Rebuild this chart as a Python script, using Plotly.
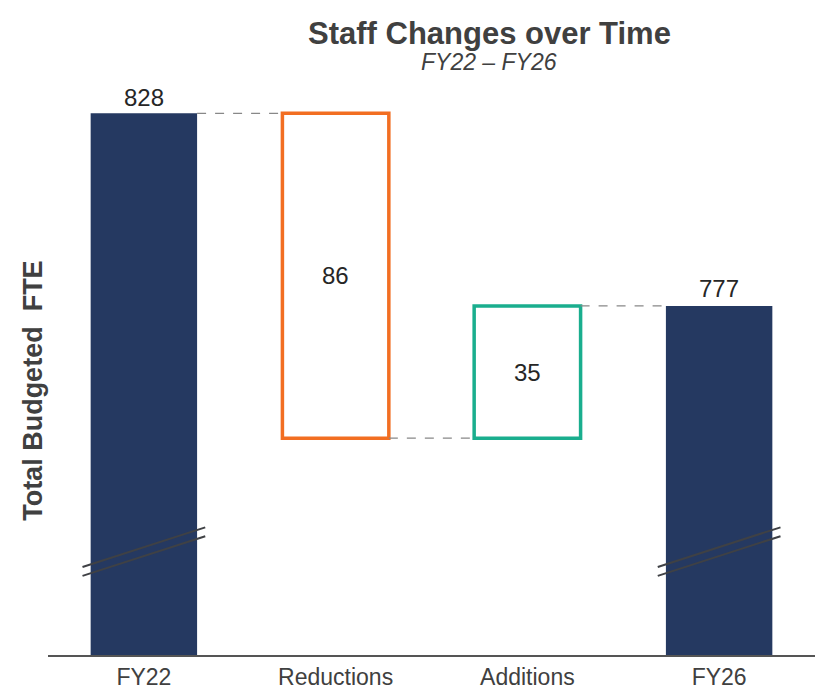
import plotly.graph_objects as go

categories = ["FY22", "Reductions", "Additions", "FY26"]
start_total = 828
reductions = 86
additions = 35
end_total = 777
axis_floor = 684.6
axis_top = 840

navy = "#253961"
orange = "#F26E22"
teal = "#1AAE8E"
grey_text = "#404040"

red_base = start_total - reductions
add_base = red_base
add_top = add_base + additions

fig = go.Figure()
bw = 0.555

fig.add_trace(go.Bar(x=[categories[0], categories[3]], y=[start_total - axis_floor, end_total - axis_floor],
                     base=[axis_floor, axis_floor], width=bw, marker=dict(color=navy, line=dict(width=0)),
                     hoverinfo="skip"))
fig.add_trace(go.Bar(x=[categories[1]], y=[reductions], base=[red_base], width=bw,
                     marker=dict(color="white", line=dict(color=orange, width=3.5)), hoverinfo="skip"))
fig.add_trace(go.Bar(x=[categories[2]], y=[additions], base=[add_base], width=bw,
                     marker=dict(color="white", line=dict(color=teal, width=3.5)), hoverinfo="skip"))

# value labels
fsz = 24
fig.add_annotation(x=0, y=start_total, text=str(start_total), showarrow=False, yanchor="bottom",
                   yshift=0, font=dict(size=fsz, color="#262626"))
fig.add_annotation(x=3, y=end_total, text=str(end_total), showarrow=False, yanchor="bottom",
                   yshift=2, font=dict(size=fsz, color="#262626"))
fig.add_annotation(x=1, y=red_base + reductions / 2, text=str(reductions), showarrow=False,
                   font=dict(size=fsz, color="#262626"))
fig.add_annotation(x=2, y=add_base + additions / 2, text=str(additions), showarrow=False,
                   font=dict(size=fsz, color="#262626"))

# connectors
conn = [(0, 1, start_total), (1, 2, red_base), (2, 3, add_top)]
for a, b, yv in conn:
    fig.add_shape(type="line", xref="x", yref="y", x0=a + bw / 2, x1=b - bw / 2, y0=yv, y1=yv,
                  line=dict(color="#888", width=1.3, dash="dash"))

# axis break marks on total bars
for ci in (0, 3):
    for off in (0, 2.35):
        fig.add_shape(type="line", xref="x", yref="y", x0=ci - 0.32, x1=ci + 0.32,
                      y0=707.9 + off - 2.35, y1=718.4 + off - 2.35,
                      line=dict(color="#3f4145", width=2))

fig.update_layout(
    width=840, height=693,
    margin=dict(l=48, r=25, t=68, b=38),
    plot_bgcolor="white", paper_bgcolor="white",
    showlegend=False, barmode="overlay",
    font=dict(family="Liberation Sans, Arial, sans-serif", color=grey_text),
    xaxis=dict(type="category", categoryorder="array", categoryarray=categories,
               showline=True, linecolor="#555", linewidth=2, ticks="", showgrid=False,
               automargin=False,
               tickfont=dict(size=23, color=grey_text), range=[-0.5, 3.5]),
    yaxis=dict(range=[axis_floor, axis_top], visible=False, showgrid=False, zeroline=False),
)

fig.add_annotation(xref="paper", yref="paper", x=0.575, y=1, yshift=35, yanchor="middle",
                   text="<b>Staff Changes over Time</b>", showarrow=False,
                   font=dict(size=31, color=grey_text))
fig.add_annotation(xref="paper", yref="paper", x=0.575, y=1, yshift=6, yanchor="middle",
                   text="<i>FY22 – FY26</i>", showarrow=False,
                   font=dict(size=23, color=grey_text))
fig.add_annotation(xref="paper", yref="paper", x=0, xshift=-15, xanchor="center", y=0.45,
                   textangle=-90, text="<b>Total Budgeted  FTE</b>", showarrow=False,
                   font=dict(size=27, color=grey_text))

fig.write_html("out.html")
